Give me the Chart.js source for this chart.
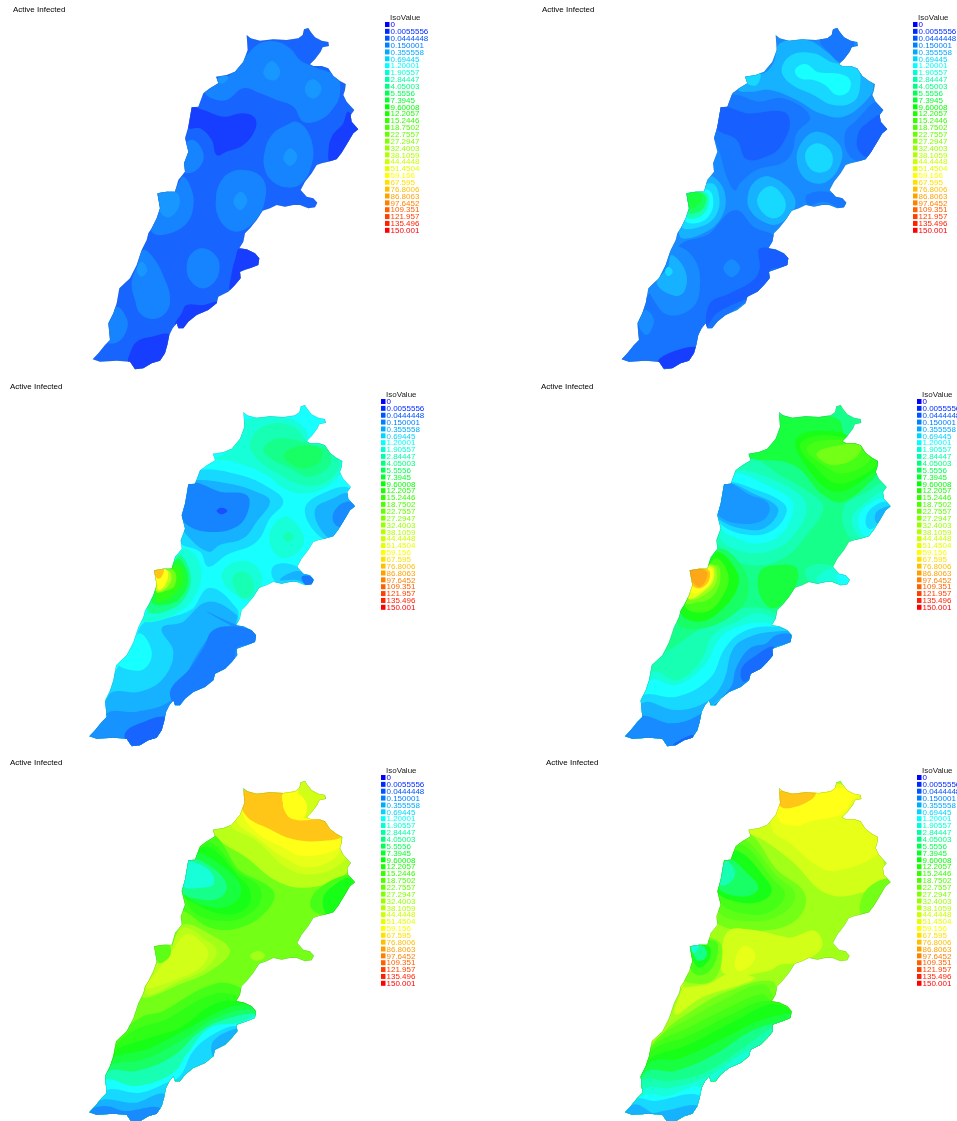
<!DOCTYPE html>
<html>
<head>
<meta charset="utf-8">
<title>Active Infected</title>
<script src="https://cdn.jsdelivr.net/npm/chart.js@4"></script>
<style>
    html, body { margin: 0; padding: 0; background: #fff; width: 957px; height: 1121px; overflow: hidden; }
    canvas { position: absolute; filter: blur(0.4px); }
</style>
</head>
<body>
<script>
// Legend values, one colour per iso level
const isoLabels = ['0', '0.0055556', '0.0444448', '0.150001', '0.355558', '0.69445', '1.20001', '1.90557', '2.84447', '4.05003', '5.5556', '7.3945', '9.60008', '12.2057', '15.2446', '18.7502', '22.7557', '27.2947', '32.4003', '38.1059', '44.4448', '51.4504', '59.156', '67.595', '76.8006', '86.8063', '97.6452', '109.351', '121.957', '135.496', '150.001'];
const isoColors = ['#0000ff', '#002bff', '#0055ff', '#0080ff', '#00aaff', '#00d5ff', '#00ffff', '#00ffd5', '#00ffaa', '#00ff80', '#00ff55', '#00ff2b', '#00ff00', '#1aff00', '#33ff00', '#4dff00', '#66ff00', '#80ff00', '#99ff00', '#b3ff00', '#ccff00', '#e6ff00', '#ffff00', '#ffe000', '#ffbf00', '#ff9f00', '#ff8000', '#ff6000', '#ff4000', '#ff2000', '#ff0000'];

// Country outline, flat x,y list
const outline = [500,45, 512,55, 540,62, 580,58, 620,60, 655,55, 668,45, 672,28, 685,24, 692,35, 705,52, 725,62, 745,66, 747,78, 728,82, 722,95, 705,118, 690,133, 700,138, 725,138, 745,145, 760,168, 780,183, 797,192, 795,210, 790,225, 800,245, 815,262, 823,270, 812,285, 815,305, 835,328, 820,340, 805,365, 785,398, 770,418, 745,425, 725,430, 710,435, 695,460, 675,485, 662,510, 680,530, 700,535, 712,548, 705,562, 685,565, 660,555, 640,555, 615,560, 590,555, 570,565, 548,572, 530,600, 510,625, 495,640, 490,665, 478,685, 500,688, 525,700, 538,715, 535,735, 510,745, 480,755, 482,775, 465,795, 445,815, 415,830, 410,850, 385,870, 350,885, 325,905, 310,925, 295,925, 290,910, 278,925, 268,945, 262,975, 255,1000, 240,1022, 215,1030, 190,1045, 165,1048, 150,1025, 110,1022, 60,1025, 38,1018, 55,1000, 75,975, 90,960, 85,910, 100,880, 110,850, 118,805, 150,775, 170,735, 185,690, 200,660, 205,640, 215,625, 230,595, 240,565, 232,520, 260,515, 285,515, 295,480, 315,455, 312,430, 325,395, 315,355, 325,320, 335,262, 355,260, 370,220, 390,205, 415,190, 408,170, 440,165, 465,155, 490,125, 503,90, 500,45];

// Contour bands: [iso level index, flat x,y list], painted in order
const panel1Bands = [
    [2, [0,0, 870,0, 870,1060, 0,1060]],
    [1, [330,262, 370,270, 430,290, 490,280, 525,295, 525,330, 490,375, 440,395, 410,405, 395,360, 360,325, 325,325, 315,300]],
    [1, [805,275, 835,330, 790,400, 750,425, 745,400, 755,350, 790,310]],
    [1, [480,685, 540,700, 540,740, 490,750, 480,780, 450,810, 455,760, 465,720]],
    [1, [320,855, 370,855, 415,845, 400,870, 300,935, 285,915, 305,880]],
    [1, [150,1000, 170,965, 215,950, 270,945, 270,1000, 240,1040, 170,1060, 145,1030]],
    [2.8, [505,100, 540,70, 590,65, 630,85, 660,120, 700,140, 770,170, 780,220, 760,265, 720,300, 670,305, 640,260, 590,240, 540,220, 490,205, 440,240, 395,235, 375,215, 410,190, 450,165, 480,130]],
    [2.8, [650,305, 680,330, 700,390, 690,450, 665,490, 630,503, 585,490, 555,450, 555,390, 580,340, 620,315]],
    [2.8, [490,450, 530,460, 555,490, 555,540, 535,590, 490,630, 450,630, 415,590, 408,530, 425,480, 455,455]],
    [2.8, [340,360, 370,400, 360,440, 320,460, 300,440, 310,380]],
    [2.8, [310,470, 335,510, 340,560, 320,610, 270,640, 220,640, 210,600, 230,530, 240,510, 290,500]],
    [2.8, [370,685, 410,710, 418,750, 400,790, 365,805, 330,780, 320,740, 335,700]],
    [2.8, [190,690, 225,720, 255,780, 270,830, 260,875, 220,897, 180,880, 165,840, 155,790, 170,740]],
    [2.8, [110,860, 140,895, 140,930, 115,965, 80,965, 80,900]],
    [3.3, [575,123, 600,150, 590,178, 565,178, 550,155]],
    [3.3, [700,178, 725,205, 705,235, 680,225, 677,195]],
    [3.3, [630,385, 652,410, 630,438, 610,415]],
    [3.3, [482,515, 502,540, 482,570, 460,545]],
    [3.3, [235,520, 285,515, 300,545, 280,585, 255,590, 235,560]],
    [3.3, [420,170, 445,170, 430,190, 410,185]],
    [3.3, [185,725, 202,750, 185,770, 170,750]]
];
const panel2Bands = [
    [3, [0,0, 870,0, 870,1060, 0,1060]],
    [2.5, [660,60, 700,20, 760,60, 750,100, 720,125, 690,100]],
    [2.5, [395,225, 470,245, 550,235, 630,290, 590,340, 575,400, 545,430, 470,450, 420,490, 405,512, 380,470, 360,400, 340,340, 350,300, 360,260]],
    [1.9, [360,262, 440,280, 550,275, 570,310, 545,375, 510,405, 440,418, 410,360, 350,325]],
    [2.5, [835,245, 865,330, 800,420, 750,410, 735,340, 770,300]],
    [1.9, [845,285, 860,330, 810,410, 775,390, 775,340, 800,310]],
    [2.5, [620,525, 680,515, 740,545, 730,565, 670,545, 625,555]],
    [2.4, [405,570, 460,620, 525,650, 510,690, 570,715, 560,750, 510,770, 500,800, 430,850, 330,930, 300,1000, 240,1050, 60,1050, 60,1020, 90,980, 120,900, 140,830, 200,790, 235,680, 330,640]],
    [1.8, [480,685, 560,705, 565,735, 510,750, 510,780, 470,825, 430,840, 350,880, 320,920, 330,850, 390,820, 460,780, 480,740]],
    [1, [190,1045, 175,1020, 250,985, 290,985, 270,1030]],
    [3, [235,680, 285,720, 300,790, 280,860, 205,885, 155,830, 150,800, 200,710]],
    [4, [215,705, 255,750, 255,810, 225,828, 170,790, 205,740]],
    [5, [205,740, 218,755, 205,768, 195,755]],
    [3, [135,870, 162,900, 140,945, 115,910]],
    [3, [395,718, 420,745, 395,772, 370,745]],
    [4, [430,165, 490,160, 520,130, 540,70, 620,60, 680,95, 720,130, 800,170, 825,190, 800,240, 730,290, 660,280, 590,240, 510,210, 450,215, 415,210]],
    [5, [545,150, 575,105, 640,100, 690,125, 770,145, 780,200, 760,245, 700,255, 640,225, 570,190]],
    [6, [585,150, 615,132, 650,155, 720,162, 750,180, 745,215, 710,225, 675,195, 640,180, 600,175]],
    [5, [435,170, 480,160, 470,195, 440,190]],
    [4, [655,335, 715,370, 725,420, 680,485, 620,480, 590,420, 610,360]],
    [5, [655,370, 695,400, 690,445, 650,457, 620,430, 620,390]],
    [4, [510,470, 570,510, 585,560, 540,610, 500,610, 450,570, 445,520, 470,480]],
    [5, [510,498, 550,530, 555,570, 525,595, 490,580, 472,535]],
    [4, [340,470, 375,520, 365,590, 310,640, 240,650, 260,560, 290,520, 320,480]],
    [5, [335,490, 358,535, 345,590, 300,620, 245,620, 260,530]],
    [6, [325,510, 340,545, 325,590, 285,610, 255,600, 260,520]],
    [8, [320,520, 325,555, 300,590, 260,590, 258,520]],
    [10, [315,525, 310,565, 280,580, 265,575, 260,520]],
    [11, [305,520, 300,550, 270,565, 260,525]]
];
const panel3Bands = [
    [6, [0,0, 870,0, 870,1060, 0,1060]],
    [5, [360,225, 480,240, 570,280, 610,320, 570,370, 530,440, 440,480, 385,515, 360,470, 300,440, 300,320, 330,260]],
    [4, [330,260, 440,265, 540,295, 570,320, 530,380, 490,430, 420,450, 385,470, 320,420, 305,380, 320,300]],
    [2.8, [330,265, 420,290, 500,300, 505,345, 470,395, 380,410, 310,380, 305,340]],
    [1.5, [425,338, 442,347, 425,358, 410,347]],
    [5, [810,280, 830,340, 780,430, 720,425, 675,340, 740,290]],
    [4, [805,295, 830,335, 770,425, 735,420, 705,345, 760,310]],
    [3, [800,320, 825,335, 785,395, 760,380, 765,345]],
    [5, [585,510, 640,510, 700,550, 695,570, 640,560, 600,570, 575,540]],
    [4, [600,555, 640,530, 680,535, 700,555, 690,572, 650,555]],
    [2.5, [665,545, 695,545, 700,565, 680,572]],
    [5, [390,578, 470,640, 480,690, 530,715, 525,750, 470,770, 460,810, 400,860, 300,935, 265,950, 250,1050, 20,1050, 75,930, 100,850, 105,830, 160,750, 190,685, 260,670, 340,640]],
    [4, [385,620, 470,660, 470,690, 530,715, 525,750, 470,770, 460,810, 400,860, 300,935, 265,950, 250,1050, 20,1050, 75,920, 100,890, 180,890, 250,850, 280,770, 245,700, 310,680]],
    [6, [180,715, 215,770, 195,820, 150,825, 115,805, 155,760]],
    [3.2, [380,650, 450,690, 410,705, 350,780, 300,880, 260,925, 170,950, 80,955, 20,1050, 260,1050, 290,930, 420,840, 470,790, 480,760, 530,740, 530,700, 470,690]],
    [2.6, [400,705, 470,695, 530,715, 525,740, 470,760, 460,810, 400,860, 300,935, 270,890, 330,820, 370,760]],
    [2, [135,1015, 180,985, 255,965, 250,1000, 230,1040, 150,1050]],
    [7, [470,100, 510,70, 630,70, 680,110, 690,145, 740,145, 790,200, 760,260, 680,295, 610,280, 560,240, 460,200, 405,190, 440,170]],
    [8, [510,140, 560,90, 640,95, 690,145, 740,150, 780,205, 740,260, 670,270, 600,240, 530,190]],
    [9, [550,160, 600,130, 700,150, 745,165, 750,210, 690,245, 630,220, 570,190]],
    [10, [610,180, 650,155, 720,160, 720,200, 670,220, 630,205]],
    [7, [620,365, 660,400, 670,450, 620,490, 580,470, 568,420, 590,380]],
    [8, [625,410, 640,425, 625,442, 610,425]],
    [7, [490,497, 535,520, 545,570, 510,615, 460,595, 425,550, 440,515]],
    [8, [490,530, 515,550, 520,590, 490,610, 460,570, 462,540]],
    [7, [320,460, 360,510, 355,580, 300,650, 190,680, 215,620, 240,520, 290,480]],
    [9, [300,480, 330,530, 325,590, 280,640, 205,650, 225,570, 280,510]],
    [11, [295,490, 325,550, 300,610, 250,630, 215,620, 230,560, 270,520]],
    [13, [290,510, 310,550, 285,595, 235,620, 225,590, 225,530]],
    [16, [280,525, 285,570, 250,590, 228,590, 225,525]],
    [19, [270,530, 270,565, 240,590, 225,580, 225,525]],
    [22, [260,525, 262,555, 240,585, 228,570, 222,525]],
    [24, [250,520, 245,545, 232,550, 220,522]]
];
const panel4Bands = [
    [9, [0,0, 870,0, 870,1060, 0,1060]],
    [8, [420,190, 510,240, 610,300, 640,340, 590,420, 520,490, 420,510, 330,465, 320,420, 330,300, 370,230]],
    [7, [385,225, 480,250, 570,300, 590,340, 560,410, 490,465, 400,470, 330,430, 325,330, 350,260]],
    [6, [380,235, 470,270, 540,310, 550,345, 520,410, 450,445, 380,430, 335,400, 330,300, 350,260]],
    [5, [345,265, 440,285, 515,320, 530,350, 490,405, 420,420, 335,390, 320,340]],
    [4, [345,265, 440,300, 490,325, 505,350, 470,395, 420,405, 330,375, 320,340]],
    [3.3, [345,265, 420,300, 470,320, 478,350, 450,380, 380,385, 330,365, 320,340]],
    [8, [830,265, 845,335, 770,435, 720,430, 700,340, 770,290]],
    [7, [825,290, 845,335, 770,430, 750,430, 725,370, 770,320]],
    [6, [835,310, 845,335, 780,420, 760,420, 745,370, 780,325]],
    [5, [825,320, 840,335, 790,400, 770,395, 770,360, 790,335]],
    [4, [828,335, 840,335, 805,385, 795,375, 800,350]],
    [8, [590,520, 660,510, 720,550, 710,575, 640,570, 600,565]],
    [7, [620,550, 670,520, 720,545, 715,570, 630,570]],
    [6, [680,540, 715,540, 720,565, 695,572]],
    [8, [130,800, 200,750, 290,690, 400,640, 490,650, 560,700, 560,800, 300,1060, 30,1060, 90,910]],
    [7, [130,830, 200,855, 270,800, 310,720, 380,680, 440,655, 495,670, 560,700, 560,800, 300,1060, 30,1060, 90,910]],
    [6, [120,855, 200,870, 285,810, 330,730, 400,690, 480,685, 560,710, 560,800, 300,1060, 30,1060, 90,920]],
    [5, [100,900, 200,905, 300,850, 345,760, 400,710, 490,695, 560,715, 560,800, 300,1060, 30,1060, 85,950]],
    [4, [95,925, 200,945, 290,920, 340,860, 370,760, 420,725, 490,710, 550,715, 530,760, 500,800, 420,860, 300,940, 270,1050, 40,1050]],
    [3, [85,965, 190,985, 275,955, 360,880, 380,815, 420,760, 470,745, 500,720, 550,720, 545,740, 490,760, 490,790, 420,860, 330,920, 270,1000, 250,1050, 40,1050]],
    [2.2, [400,860, 395,820, 440,780, 490,755, 490,790, 430,840]],
    [2, [200,1040, 250,1020, 240,1050, 190,1050]],
    [11, [480,150, 510,60, 680,70, 710,130, 760,150, 810,210, 800,240, 700,320, 640,300, 550,210, 420,190, 420,175]],
    [12, [560,130, 680,110, 750,150, 810,205, 780,240, 680,290, 600,230]],
    [13, [570,150, 640,120, 750,150, 800,200, 760,240, 680,265, 620,220]],
    [14, [590,160, 650,135, 755,150, 780,195, 700,235, 640,210]],
    [16, [620,175, 665,155, 750,150, 740,185, 680,210, 640,200]],
    [11, [450,530, 500,510, 560,520, 550,590, 490,640, 450,600]],
    [10, [330,460, 400,520, 415,590, 380,650, 280,700, 205,690, 215,640, 240,580, 240,520, 290,515]],
    [12, [325,470, 375,520, 385,570, 340,640, 270,680, 212,655, 235,600, 245,540, 295,500]],
    [14, [320,490, 355,540, 340,600, 290,650, 225,635, 245,570, 290,520]],
    [16, [320,510, 330,560, 300,610, 250,625, 228,625, 250,570]],
    [18, [310,510, 320,555, 290,595, 240,615, 235,590, 245,530]],
    [21, [305,515, 310,555, 280,590, 235,610, 240,525]],
    [22, [300,520, 305,555, 270,590, 240,590, 240,525]],
    [24, [295,525, 295,560, 265,580, 240,560, 240,525]],
    [25, [290,530, 285,560, 265,575, 240,545, 240,520]]
];
const panel5Bands = [
    [16, [0,0, 870,0, 870,1060, 0,1060]],
    [19, [400,180, 480,130, 500,60, 700,60, 740,145, 790,200, 810,285, 780,320, 680,350, 590,330, 500,260, 420,210]],
    [20, [450,160, 500,100, 700,70, 740,150, 790,210, 790,270, 700,310, 620,290, 530,210]],
    [21, [470,150, 500,110, 700,70, 760,200, 780,245, 690,290, 620,265, 530,200]],
    [22, [490,130, 500,60, 720,70, 780,200, 780,230, 670,255, 600,225, 530,185]],
    [24, [490,60, 610,65, 610,110, 640,145, 740,150, 785,195, 720,210, 640,205, 570,175, 495,130]],
    [20, [655,70, 665,25, 740,65, 735,85, 680,140, 660,130]],
    [22, [610,65, 650,65, 680,100, 670,140, 630,130, 610,100]],
    [14, [400,190, 470,290, 580,360, 560,420, 480,470, 390,470, 310,420, 300,440, 320,260, 360,225]],
    [13, [395,215, 470,300, 540,350, 530,410, 440,450, 330,410, 320,270, 360,230]],
    [12, [400,235, 470,310, 510,360, 500,410, 430,430, 330,390, 310,370, 320,265, 360,230]],
    [11, [350,245, 420,280, 480,340, 470,390, 400,410, 310,370, 305,340, 320,265]],
    [9, [340,260, 410,300, 440,345, 420,380, 360,385, 305,360, 320,270]],
    [7, [325,270, 390,300, 400,340, 360,350, 310,345, 320,290]],
    [14, [810,310, 825,335, 770,420, 720,430, 690,400, 720,350]],
    [12, [805,320, 825,335, 770,425, 740,430, 730,380, 760,345]],
    [18, [310,460, 390,490, 450,540, 390,600, 300,640, 190,680, 200,630, 230,580, 225,525, 280,520]],
    [19, [320,470, 370,500, 410,540, 380,590, 300,630, 200,670, 220,590, 270,545, 290,490]],
    [20, [320,490, 370,520, 385,550, 360,590, 290,625, 200,650, 240,590, 270,550]],
    [15, [222,525, 265,520, 270,555, 235,575]],
    [18, [535,540, 555,555, 530,570, 510,555]],
    [14, [115,800, 180,740, 250,720, 400,640, 480,650, 520,700, 490,780, 300,1060, 20,1060, 70,900]],
    [13, [110,820, 170,775, 260,745, 400,670, 480,680, 530,720, 490,780, 300,1060, 20,1060, 70,900]],
    [12, [105,840, 210,800, 300,770, 400,700, 470,690, 530,720, 490,780, 300,1060, 20,1060, 70,900]],
    [11, [100,860, 200,835, 320,775, 410,725, 490,700, 530,720, 490,780, 300,1060, 20,1060, 70,900]],
    [10, [90,880, 190,865, 310,805, 400,745, 500,715, 530,730, 490,780, 300,1060, 20,1060, 60,900]],
    [8, [80,905, 170,900, 280,855, 350,790, 420,750, 530,730, 490,780, 300,1060, 20,1060]],
    [6, [70,930, 170,945, 280,905, 320,850, 390,770, 480,755, 530,735, 480,780, 300,1060, 20,1060]],
    [5, [75,960, 180,965, 260,935, 300,915, 340,840, 400,790, 470,765, 480,790, 400,860, 300,1060, 20,1060]],
    [4, [400,810, 475,770, 470,790, 420,850, 400,860]],
    [4, [55,990, 170,995, 255,970, 260,1050, 20,1060]],
    [3, [20,1025, 70,1005, 130,1020, 240,1010, 240,1060, 20,1060]]
];
const panel6Bands = [
    [18, [0,0, 870,0, 870,1060, 0,1060]],
    [20, [400,180, 470,130, 500,60, 740,60, 790,200, 810,290, 830,330, 760,360, 640,370, 530,270, 450,210]],
    [21, [470,170, 500,60, 740,60, 790,210, 790,250, 660,300, 600,280, 530,220]],
    [22, [490,145, 495,55, 740,60, 710,90, 680,130, 590,150, 540,165]],
    [24, [495,60, 600,62, 590,85, 530,110, 495,105]],
    [16, [400,185, 480,290, 570,370, 540,450, 420,480, 310,460, 310,420, 320,270, 360,230]],
    [15, [390,205, 480,310, 540,370, 500,430, 400,450, 310,420, 320,280, 360,230]],
    [14, [380,220, 470,320, 510,370, 470,420, 400,430, 320,400, 310,340, 330,265]],
    [12, [370,240, 450,320, 470,360, 440,390, 380,395, 310,370, 310,345, 330,265]],
    [10, [340,265, 400,310, 430,350, 400,375, 340,370, 310,345]],
    [8, [330,270, 360,300, 345,335, 315,340]],
    [16, [820,320, 830,335, 780,420, 740,430, 735,400, 760,350]],
    [20, [340,480, 400,475, 520,500, 600,480, 620,530, 550,575, 500,580, 460,600, 330,610, 320,550]],
    [21, [385,525, 420,545, 410,580, 370,600, 360,570]],
    [16, [240,510, 310,510, 320,570, 290,630, 220,635, 205,620, 225,600]],
    [14, [225,525, 300,510, 305,560, 270,610, 230,600]],
    [12, [228,525, 280,525, 285,560, 255,590, 235,570]],
    [9, [228,525, 265,525, 275,555, 250,570, 235,550]],
    [7, [230,525, 250,522, 245,540, 235,545]],
    [20, [195,650, 290,635, 340,610, 420,620, 380,640, 260,680, 180,730, 205,640]],
    [16, [140,790, 230,720, 340,660, 470,630, 490,680, 530,720, 490,780, 300,1060, 20,1060, 70,900]],
    [15, [125,805, 220,745, 320,690, 440,640, 480,680, 530,720, 490,780, 300,1060, 20,1060, 70,900]],
    [14, [120,820, 220,770, 340,710, 440,670, 470,690, 530,715, 490,780, 300,1060, 20,1060, 70,910]],
    [13, [115,835, 220,795, 350,730, 450,690, 530,720, 490,780, 300,1060, 20,1060, 70,910]],
    [12, [108,860, 210,825, 360,750, 470,700, 530,725, 490,780, 300,1060, 20,1060, 70,910]],
    [11, [100,880, 200,860, 350,790, 430,750, 530,730, 490,780, 300,1060, 20,1060]],
    [9, [90,905, 180,900, 300,850, 410,780, 530,745, 480,770, 300,1060, 20,1060]],
    [8, [80,930, 170,930, 280,900, 400,820, 475,770, 480,790, 300,1060, 20,1060]],
    [7, [85,955, 170,950, 280,915, 380,850, 420,830, 350,900, 300,930, 250,1060, 20,1060]],
    [6, [80,975, 160,975, 255,950, 250,1060, 20,1060]],
    [5, [60,985, 120,990, 255,975, 245,1060, 20,1060]],
    [4, [30,1025, 60,1000, 110,1025, 145,1020, 250,1005, 240,1060, 20,1060]]
];

// Where each map sits on the page
const panels = [
    { bands: panel1Bands, left: 0, top: 0, cropX: 80, cropY: 20, shiftX: 0, shiftY: 0, titleX: 13 },
    { bands: panel2Bands, left: 528, top: 0, cropX: 600, cropY: 20, shiftX: 27, shiftY: 0, titleX: 14 },
    { bands: panel3Bands, left: -4, top: 377, cropX: 80, cropY: 395, shiftX: -10, shiftY: 6, titleX: 14 },
    { bands: panel4Bands, left: 532, top: 377, cropX: 610, cropY: 395, shiftX: 7, shiftY: 6, titleX: 9 },
    { bands: panel5Bands, left: -4, top: 753, cropX: 80, cropY: 771, shiftX: -10, shiftY: 6, titleX: 14 },
    { bands: panel6Bands, left: 532, top: 753, cropX: 615, cropY: 771, shiftX: -8, shiftY: 6, titleX: 14 }
];

const CANVAS_W = 480;
const CANVAS_H = 375;
const FONT = '8px "Liberation Sans", Arial, sans-serif';

function toPoints(flat, shiftX, shiftY) {
    const points = [];
    for (let i = 0; i < flat.length; i += 2) {
        points.push({ x: flat[i] + shiftX, y: flat[i + 1] + shiftY });
    }
    return points;
}

// Start the ring at its top vertex and overlap the ends so the spline closes smoothly
function closeRing(points) {
    let top = 0;
    points.forEach((p, i) => { if (p.y < points[top].y) top = i; });
    const ring = points.slice(top).concat(points.slice(0, top));
    return [ring[ring.length - 1], ...ring, ring[0], ring[1]];
}

// Level colour, slightly paler than the pure legend swatch as in the rendered maps
function bandColor(level) {
    const low = parseInt(isoColors[Math.floor(level)].slice(1), 16);
    const high = parseInt(isoColors[Math.ceil(level)].slice(1), 16);
    const t = level - Math.floor(level);
    const channel = (shift) => {
        const a = (low >> shift) & 255;
        const b = (high >> shift) & 255;
        const c = a + (b - a) * t;
        return Math.round(c + (255 - c) * 0.09);
    };
    return `rgb(${channel(16)},${channel(8)},${channel(0)})`;
}

// Clip all fills to the country shape, then draw the text and legend on top
const mapPlugin = {
    id: 'mapPlugin',
    beforeDraw(chart, args, opts) {
        const { x, y } = chart.scales;
        const ctx = chart.ctx;
        ctx.save();
        ctx.beginPath();
        opts.border.forEach((p, i) => {
            const px = x.getPixelForValue(p.x);
            const py = y.getPixelForValue(p.y);
            if (i === 0) ctx.moveTo(px, py); else ctx.lineTo(px, py);
        });
        ctx.closePath();
        ctx.clip();
    },
    afterDatasetsDraw(chart) {
        chart.ctx.restore();
    },
    afterDraw(chart, args, opts) {
        const ctx = chart.ctx;
        ctx.save();
        ctx.font = FONT;
        ctx.textBaseline = 'middle';
        ctx.textAlign = 'left';
        ctx.fillStyle = '#000';
        ctx.fillText('Active Infected', opts.titleX, 10);
        ctx.fillStyle = '#222';
        ctx.fillText('IsoValue', 390, 18);
        isoLabels.forEach((label, i) => {
            const y = 24.5 + i * 6.86;
            ctx.fillStyle = isoColors[i];
            ctx.fillRect(385, y - 2.5, 4.5, 5);
            ctx.fillText(label, 390.5, y + 0.5);
        });
        ctx.restore();
    }
};

function drawPanel(panel) {
    const canvas = document.createElement('canvas');
    canvas.width = CANVAS_W;
    canvas.height = CANVAS_H;
    canvas.style.left = panel.left + 'px';
    canvas.style.top = panel.top + 'px';
    document.body.appendChild(canvas);

    const border = toPoints(outline, panel.shiftX, panel.shiftY);
    const xMin = (panel.left - panel.cropX) * 3;
    const yMin = (panel.top - panel.cropY) * 3;

    const datasets = panel.bands.map(([level, flat]) => ({
        data: closeRing(toPoints(flat, 0, 0)),
        showLine: true,
        fill: 'shape',
        tension: 0.4,
        backgroundColor: bandColor(level),
        borderWidth: 0,
        pointRadius: 0
    }));
    datasets.push({
        data: border,
        showLine: true,
        fill: false,
        borderColor: 'rgba(70,110,130,0.3)',
        borderWidth: 1,
        pointRadius: 0
    });

    new Chart(canvas, {
        type: 'scatter',
        // Chart.js paints the first dataset last
        data: { datasets: datasets.reverse() },
        options: {
            responsive: false,
            animation: false,
            devicePixelRatio: 1,
            layout: { padding: 0 },
            scales: {
                x: { type: 'linear', display: false, min: xMin, max: xMin + CANVAS_W * 3 },
                y: { type: 'linear', display: false, reverse: true, min: yMin, max: yMin + CANVAS_H * 3 }
            },
            plugins: {
                legend: { display: false },
                tooltip: { enabled: false },
                mapPlugin: { border: border, titleX: panel.titleX }
            }
        },
        plugins: [mapPlugin]
    });
}

panels.forEach(drawPanel);
</script>
</body>
</html>
